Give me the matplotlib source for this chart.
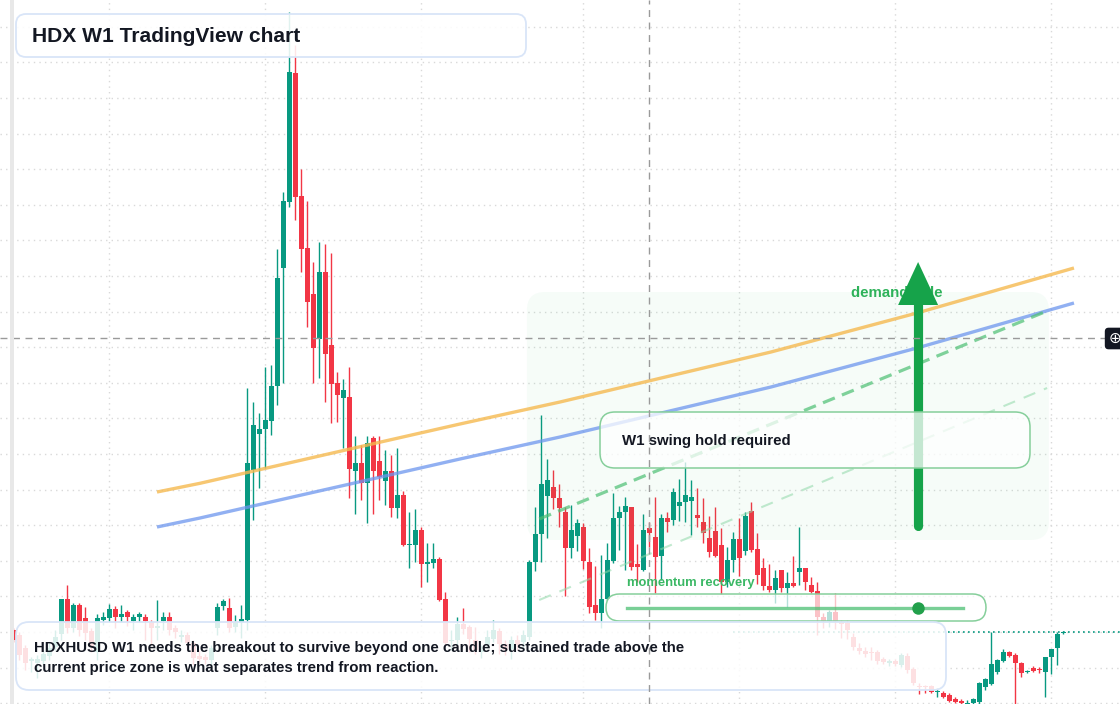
import numpy as np
import matplotlib.pyplot as plt
from matplotlib.patches import FancyBboxPatch, Rectangle

plt.rcParams['font.family'] = ['Liberation Sans', 'DejaVu Sans']

# HDX/USD weekly candles, prices in units of 0.0001 USD
opens = [174, 169, 156, 143, 141, 143, 148, 157, 170, 205,
         176, 199, 186, 173, 152, 184, 186, 195, 187, 192,
         183, 187, 187, 182, 176, 183, 187, 176, 167, 169,
         161, 148, 147, 144, 176, 198, 196, 177, 182, 184,
         334, 370, 375, 383, 418, 536, 602, 731, 608, 556,
         510, 465, 532, 459, 421, 406, 407, 333, 341, 321,
         366, 343, 323, 333, 296, 309, 259, 259, 274, 240,
         241, 245, 205, 163, 164, 180, 177, 164, 152, 159,
         165, 173, 160, 155, 164, 162, 167, 242, 270, 308,
         317, 306, 292, 256, 268, 277, 242, 199, 191, 205,
         243, 286, 292, 297, 240, 234, 276, 267, 248, 286,
         284, 298, 302, 303, 289, 282, 266, 273, 259, 222,
         244, 265, 253, 293, 255, 236, 218, 214, 234, 216,
         221, 232, 236, 219, 213, 187, 183, 192, 182, 181,
         167, 156, 153, 152, 152, 145, 141, 143, 139, 148,
         135, 118, 118, 118, 112, 111, 109, 105, 103, 100,
         101, 102, 117, 120, 132, 143, 152, 149, 141, 132,
         136, 135, 132, 147, 156, 171]
highs = [176, 172, 159, 147, 149, 154, 161, 174, 205, 219,
         201, 201, 197, 176, 190, 192, 200, 198, 199, 194,
         190, 192, 190, 184, 204, 192, 192, 179, 174, 172,
         164, 154, 150, 159, 201, 205, 206, 189, 199, 416,
         402, 391, 437, 439, 555, 612, 792, 759, 635, 603,
         542, 562, 560, 551, 432, 425, 437, 368, 359, 368,
         368, 368, 354, 349, 356, 313, 292, 295, 277, 261,
         261, 247, 212, 174, 187, 196, 179, 177, 159, 174,
         184, 176, 164, 168, 169, 174, 244, 297, 389, 345,
         334, 320, 297, 299, 285, 281, 256, 238, 249, 261,
         311, 298, 307, 297, 260, 290, 282, 307, 290, 292,
         316, 325, 342, 324, 316, 306, 288, 297, 276, 257,
         272, 286, 292, 302, 271, 246, 240, 234, 234, 232,
         248, 277, 236, 227, 222, 191, 194, 211, 184, 184,
         171, 161, 157, 157, 154, 147, 145, 145, 151, 151,
         137, 121, 119, 119, 116, 113, 111, 107, 105, 104,
         106, 122, 126, 172, 145, 155, 153, 151, 142, 134,
         138, 137, 147, 155, 172, 173]
lows = [162, 144, 134, 132, 126, 140, 144, 154, 164, 171,
        172, 168, 164, 152, 144, 179, 182, 176, 182, 178,
        174, 182, 164, 159, 164, 174, 169, 166, 162, 154,
        139, 142, 140, 139, 169, 194, 172, 172, 166, 174,
        284, 316, 336, 369, 399, 421, 597, 584, 532, 477,
        421, 426, 402, 381, 382, 356, 306, 290, 304, 281,
        290, 304, 299, 287, 286, 258, 236, 242, 217, 222,
        236, 203, 159, 154, 159, 170, 152, 150, 146, 156,
        162, 150, 149, 145, 154, 156, 164, 233, 242, 266,
        295, 277, 208, 246, 253, 235, 191, 184, 176, 204,
        241, 254, 234, 234, 222, 233, 257, 211, 224, 272,
        279, 283, 282, 269, 277, 261, 247, 247, 210, 217,
        232, 228, 249, 252, 220, 214, 212, 201, 212, 197,
        217, 219, 214, 211, 169, 176, 177, 175, 166, 165,
        154, 150, 147, 144, 140, 140, 138, 138, 137, 131,
        119, 110, 111, 111, 107, 106, 102, 101, 99, 98,
        98, 99, 114, 119, 130, 142, 147, 94, 127, 131,
        132, 131, 107, 130, 139, 170]
closes = [164, 149, 141, 145, 145, 150, 156, 167, 205, 176,
          199, 174, 171, 157, 186, 187, 195, 187, 190, 187,
          187, 190, 183, 176, 178, 187, 174, 172, 169, 161,
          146, 145, 144, 156, 197, 203, 176, 182, 185, 341,
          379, 375, 384, 418, 526, 603, 732, 607, 555, 502,
          456, 532, 450, 420, 409, 414, 335, 341, 321, 361,
          333, 327, 333, 296, 309, 259, 260, 274, 240, 242,
          245, 204, 161, 164, 180, 175, 165, 154, 154, 167,
          174, 160, 154, 164, 159, 169, 242, 270, 320, 324,
          306, 296, 256, 274, 281, 243, 197, 191, 205, 244,
          286, 292, 298, 237, 237, 274, 271, 247, 286, 282,
          312, 302, 309, 307, 286, 271, 252, 248, 222, 244,
          265, 246, 288, 254, 229, 218, 214, 226, 216, 221,
          218, 236, 222, 212, 187, 183, 192, 183, 180, 174,
          157, 153, 150, 151, 143, 142, 143, 140, 149, 134,
          121, 117, 117, 112, 113, 107, 103, 102, 101, 101,
          105, 121, 125, 140, 144, 152, 148, 141, 131, 133,
          133, 134, 147, 155, 170, 172]

# drawn overlays (bar index, price)
channel_idx = [23.95, 31.12, 56.12, 74.45, 91.12, 126.28, 150.62, 176.78]
upper_px = [0.0312, 0.03207, 0.0355, 0.0380, 0.0402, 0.0452, 0.0491, 0.0536]
lower_px = [0.0277, 0.0286, 0.0320, 0.0345, 0.0367, 0.0417, 0.0456, 0.0501]
ramp_idx = [87.65, 172.3]
ramp_px = [0.0285, 0.0493]
ramp2_px = [0.0204, 0.0416]
zone_idx = [85.6, 172.6]
zone_px = [0.0264, 0.0512]
arrow_idx = 150.8
arrow_px = [0.0278, 0.0499, 0.0542]
momentum_idx = [102.3, 158.3]
momentum_px = 0.0196
momentum_dot = 150.8
cross_idx = 106
cross_px = 0.0466
month_idx = [16, 42, 68, 95, 121, 147, 173]

GREEN = '#089981'
RED = '#f23645'
W, H = 1120, 704

o = np.array(opens) * 1e-4
h = np.array(highs) * 1e-4
l = np.array(lows) * 1e-4
c = np.array(closes) * 1e-4
k = np.arange(len(o))
cols = np.where(c >= o, GREEN, RED)

fig = plt.figure(figsize=(W / 100, H / 100), dpi=100)
ax = fig.add_axes([0, 0, 1, 1])
ax.set_xlim(-13.3 / 6, (W - 13.3) / 6)
ax.set_ylim(0.0100, 0.0804)
for s in ax.spines.values():
    s.set_visible(False)
ax.set_xticks(month_idx)
ax.set_yticks(np.arange(0.01009, 0.0804, 0.00356))
ax.tick_params(length=0, labelbottom=False, labelleft=False)
ax.grid(color='#d9d9d9', linestyle=(0, (1, 3)), linewidth=1)
ax.set_axisbelow(True)

# candles
ax.vlines(k, l, h, colors=cols, linewidth=1, zorder=2)
ax.bar(k, np.maximum(np.abs(c - o), 0.00008), bottom=np.minimum(o, c),
       width=0.78, color=cols, linewidth=0, zorder=2.1)


def px_box(x0, y0, x1, y1, r, ec, fc, lw, z):
    p = FancyBboxPatch((x0 / W, 1 - y1 / H), (x1 - x0) / W, (y1 - y0) / H,
                       boxstyle=f'round,pad=0,rounding_size={r / W}',
                       mutation_aspect=W / H, transform=ax.transAxes,
                       ec=ec, fc=fc, lw=lw, zorder=z)
    ax.add_patch(p)


def px_text(x, y, s, size, color, z, weight='bold'):
    ax.text(x / W, 1 - y / H, s, transform=ax.transAxes, fontsize=size,
            color=color, fontweight=weight, ha='left', va='center', zorder=z)


# demand zone
zx0, zx1 = zone_idx
ax.add_patch(FancyBboxPatch((zx0, zone_px[0]), zx1 - zx0, zone_px[1] - zone_px[0],
                            boxstyle='round,pad=0,rounding_size=3',
                            mutation_aspect=(0.0704 / 704) / (186.67 / 1120),
                            fc=(0.133, 0.773, 0.369, 0.04), ec='none', zorder=2.5))

# last price line
ax.plot([120, 190], [c[-1], c[-1]], color=GREEN, linestyle=(0, (1, 2)),
        linewidth=1.2, zorder=2.6)

# channel lines
ax.plot(channel_idx, upper_px, color='#f5b94f', alpha=0.8, linewidth=2.4,
        solid_capstyle='butt', solid_joinstyle='round', zorder=3)
ax.plot(channel_idx, lower_px, color='#6d96ee', alpha=0.75, linewidth=2.4,
        solid_capstyle='butt', solid_joinstyle='round', zorder=3)
ax.plot(ramp_idx, ramp_px, color='#4cbf73', alpha=0.7, linewidth=2.3,
        linestyle=(0, (4, 2.4)), zorder=3.2)
ax.plot(ramp_idx, ramp2_px, color='#8fd8a8', alpha=0.55, linewidth=1.5,
        linestyle=(0, (6, 4.5)), zorder=3.2)

# demand side arrow
px_text(851, 293, 'demand side', 10.8, '#2eb25a', 4)
ax.plot([arrow_idx, arrow_idx], arrow_px[:2], color='#16a34a', linewidth=6.6,
        solid_capstyle='round', zorder=5)
hw = 20 / 6
ax.fill([arrow_idx - hw, arrow_idx + hw, arrow_idx],
        [arrow_px[1], arrow_px[1], arrow_px[2]], color='#16a34a',
        linewidth=0, zorder=5)

# swing hold callout
px_box(600, 412, 1030, 468, 15, '#86cf9b', (1, 1, 1, 0.75), 1.1, 6)
px_text(622, 441, 'W1 swing hold required', 10.8, '#131722', 6.5)

# momentum recovery
px_text(627, 583, 'momentum recovery', 9.4, '#3bb865', 6.5)
px_box(606, 594, 986, 621, 13.5, '#86cf9b', (1, 1, 1, 0.7), 1.1, 6)
ax.plot(momentum_idx, [momentum_px, momentum_px], color='#4cbf73', alpha=0.75,
        linewidth=2.4, zorder=6.5)
ax.plot([momentum_dot], [momentum_px], 'o', color='#22a04b', markersize=9,
        markeredgewidth=0, zorder=6.6)

# crosshair
ax.axvline(cross_idx, color='#9a9a9a', linestyle=(0, (5, 4)), linewidth=1, zorder=9.2)
ax.axhline(cross_px, color='#9a9a9a', linestyle=(0, (5, 4)), linewidth=1, zorder=9.2)

# title and note boxes
px_box(16, 14, 526, 57, 10, '#d9e5f8', (1, 1, 1, 0.88), 1.3, 8)
px_text(32, 36, 'HDX W1 TradingView chart', 15.1, '#131722', 9)
px_box(16, 622, 946, 690, 13, '#d9e5f8', (1, 1, 1, 0.85), 1.3, 8)
px_text(34, 648, 'HDXHUSD W1 needs the breakout to survive beyond one candle; '
        'sustained trade above the', 10.8, '#131722', 9)
px_text(34, 668, 'current price zone is what separates trend from reaction.',
        10.8, '#131722', 9)

# left scale strip
ax.add_patch(Rectangle((10 / W, 0), 3.6 / W, 1, transform=ax.transAxes,
                       color='#e8e8e8', linewidth=0, zorder=9.5))

# crosshair price marker
ax.text(1115 / W, 1 - 338.5 / H, '\u2295', transform=ax.transAxes, fontsize=11,
        color='white', ha='center', va='center', zorder=10,
        bbox=dict(boxstyle='round,pad=0.25', fc='#131722', ec='none'))

fig.savefig('out.png', dpi=100)
